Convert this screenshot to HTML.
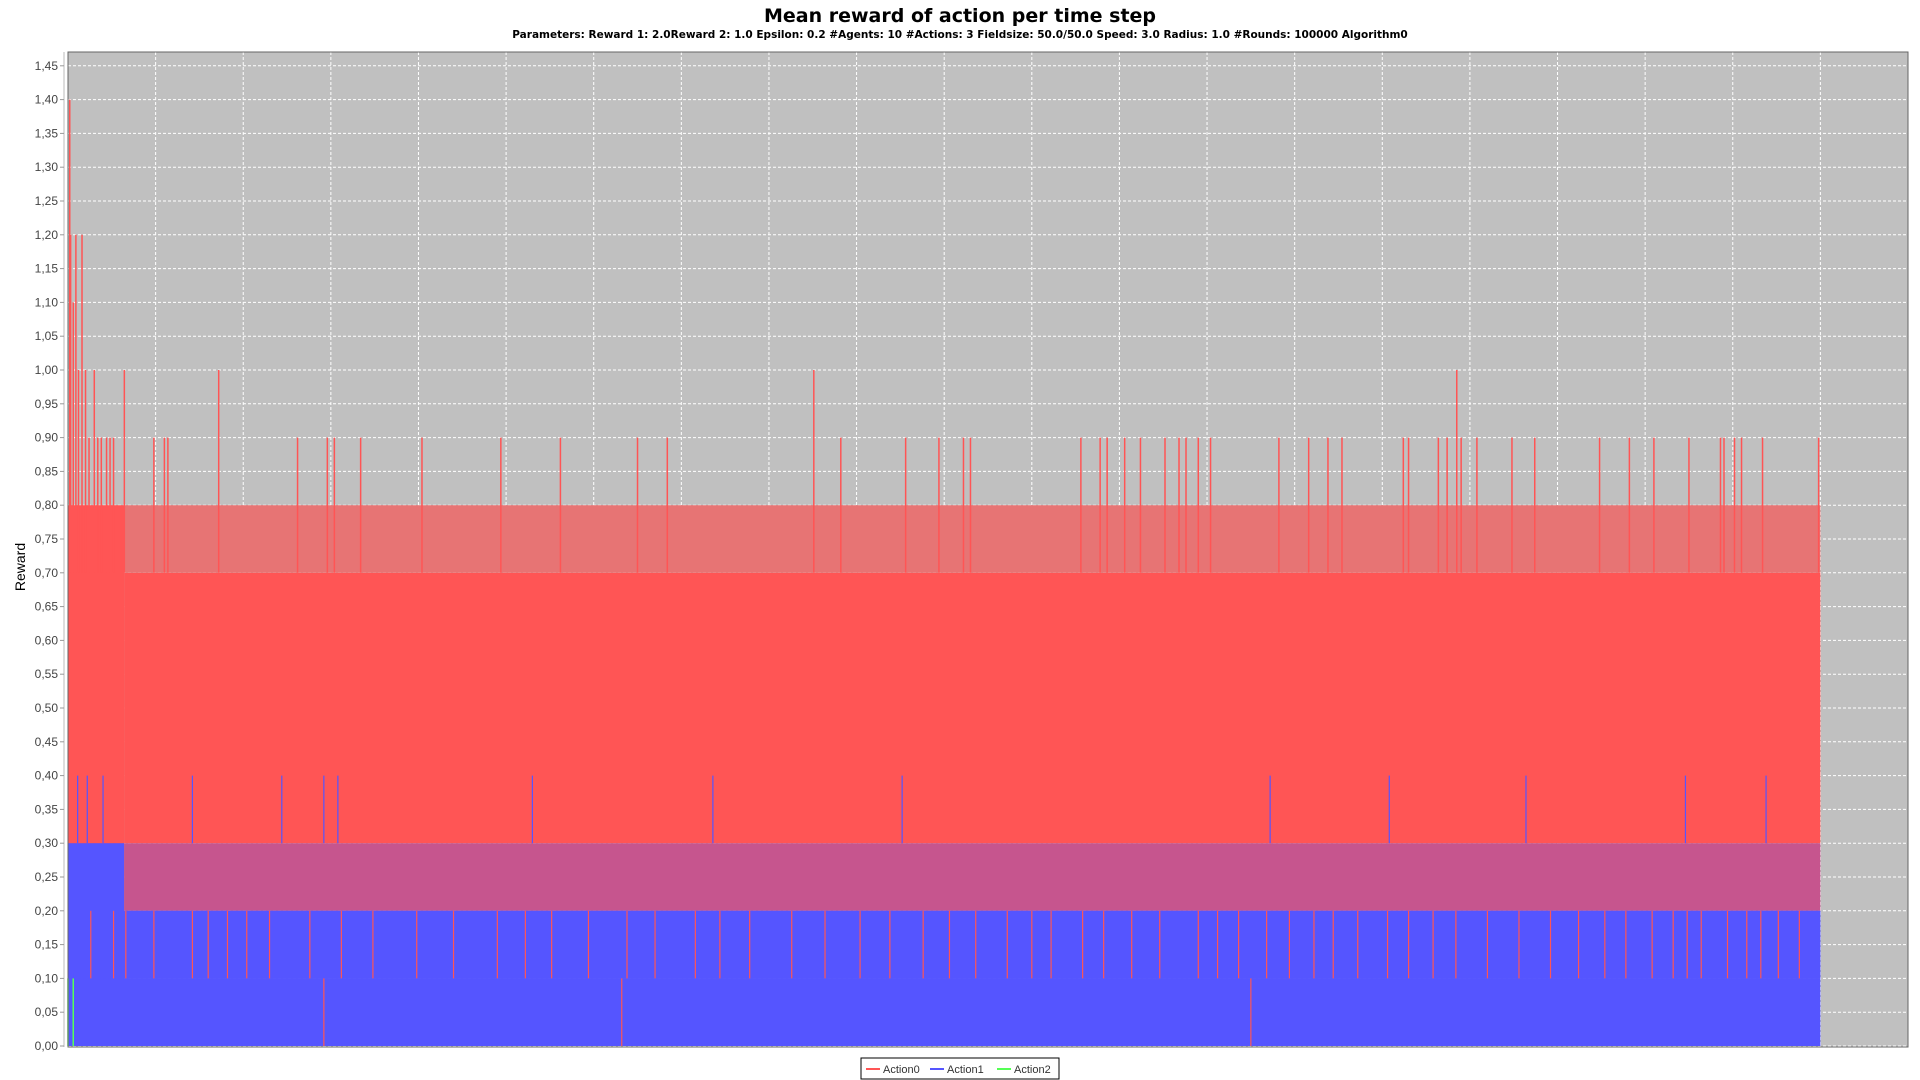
<!DOCTYPE html>
<html><head><meta charset="utf-8"><style>
html,body{margin:0;padding:0;background:#fff;width:1920px;height:1080px;overflow:hidden;font-family:"Liberation Sans",sans-serif}
</style></head><body>
<svg id="chart" width="1920" height="1080" xmlns="http://www.w3.org/2000/svg">
<text x="960" y="22" text-anchor="middle" font-family="DejaVu Sans, sans-serif" font-size="19" font-weight="bold" fill="#000">Mean reward of action per time step</text>
<text x="960" y="38" text-anchor="middle" font-family="DejaVu Sans, sans-serif" font-size="10.5" font-weight="bold" fill="#000">Parameters: Reward 1: 2.0Reward 2: 1.0 Epsilon: 0.2 #Agents: 10 #Actions: 3 Fieldsize: 50.0/50.0 Speed: 3.0 Radius: 1.0 #Rounds: 100000 Algorithm0</text>
<rect x="68" y="52" width="1840" height="995" fill="#c0c0c0"/>
<g id="grid"></g>
<g id="marks"></g>
<rect x="68" y="52" width="1840" height="995" fill="none" stroke="#666" stroke-width="1"/>
<line x1="64" y1="52" x2="64" y2="1047" stroke="#bbb"/>
<g id="yticks"></g>
<text transform="translate(25,567) rotate(-90)" text-anchor="middle" font-size="14" fill="#000">Reward</text>
<g>
<rect x="861" y="1058" width="198" height="21" fill="#fff" stroke="#000" stroke-width="1"/>
<line x1="866" y1="1069" x2="880" y2="1069" stroke="#ff5555" stroke-width="2"/>
<text x="883" y="1073" font-size="11" fill="#333">Action0</text>
<line x1="930" y1="1069" x2="944" y2="1069" stroke="#5555ff" stroke-width="2"/>
<text x="947" y="1073" font-size="11" fill="#333">Action1</text>
<line x1="997" y1="1069" x2="1011" y2="1069" stroke="#55ff55" stroke-width="2"/>
<text x="1014" y="1073" font-size="11" fill="#333">Action2</text>
</g>
</svg>
<script>
const yTicks=[0,0.05,0.1,0.15,0.2,0.25,0.3,0.35,0.4,0.45,0.5,0.55,0.6,0.65,0.7,0.75,0.8,0.85,0.9,0.95,1.0,1.05,1.1,1.15,1.2,1.25,1.3,1.35,1.4,1.45];
const xGrid=[5000,10000,15000,20000,25000,30000,35000,40000,45000,50000,55000,60000,65000,70000,75000,80000,85000,90000,95000,100000,105000];
const roundsEnd=100000;
// bands: [startRound,endRound,low,high,color]
const bandStart=[0,3200,3200,3200,3200,0,0,3200];
const bandEnd=[3200,100000,100000,100000,100000,3200,100000,100000];
const bandLow=[0.2,0.3,0.7,0.2,0.1,0.0,0.0,0.1];
const bandHigh=[0.8,0.7,0.8,0.3,0.2,0.3,0.1,0.2];
const bandColor=['#ff5555','#ff5555','#e77474','#c6558e','#5555ff','#5555ff','#5555ff','#5555ff'];
// action0 spikes
const a0SpikeX=[100,150,300,450,600,800,1000,1200,1500,1700,1900,2200,2400,2600,3215,4900,5500,5700,8600,13100,14800,15200,16700,20200,24700,28100,32500,34200,42560,44100,47800,49700,51100,51500,57800,58900,59300,60300,61200,62600,63400,63800,64500,65200,69100,70800,71900,72700,76200,76500,78200,78700,79250,79500,80400,82400,83700,87400,89100,90500,92500,94300,94500,95100,95500,96700,99900];
const a0SpikeY=[1.4,1.2,1.1,1.2,1.0,1.2,1.0,0.9,1.0,0.9,0.9,0.9,0.9,0.9,1.0,0.9,0.9,0.9,1.0,0.9,0.9,0.9,0.9,0.9,0.9,0.9,0.9,0.9,1.0,0.9,0.9,0.9,0.9,0.9,0.9,0.9,0.9,0.9,0.9,0.9,0.9,0.9,0.9,0.9,0.9,0.9,0.9,0.9,0.9,0.9,0.9,0.9,1.0,0.9,0.9,0.9,0.9,0.9,0.9,0.9,0.9,0.9,0.9,0.9,0.9,0.9,0.9];
const a0DipX=[1300,2600,3300,4900,7100,8000,9100,10200,11500,13800,15600,17400,19900,22000,24500,26100,27600,29700,31900,33500,35800,37200,38900,41300,43200,45200,46900,48800,50300,51800,53600,55000,56100,57900,59100,60700,62300,64500,65600,66800,68400,69700,71100,72200,73600,75300,76500,77900,79200,81000,82800,84600,86200,87700,88900,90400,91600,92400,93200,94700,95800,96600,97600,98800];
const a0DipY=[0.1,0.1,0.1,0.1,0.1,0.1,0.1,0.1,0.1,0.1,0.1,0.1,0.1,0.1,0.1,0.1,0.1,0.1,0.1,0.1,0.1,0.1,0.1,0.1,0.1,0.1,0.1,0.1,0.1,0.1,0.1,0.1,0.1,0.1,0.1,0.1,0.1,0.1,0.1,0.1,0.1,0.1,0.1,0.1,0.1,0.1,0.1,0.1,0.1,0.1,0.1,0.1,0.1,0.1,0.1,0.1,0.1,0.1,0.1,0.1,0.1,0.1,0.1,0.1];
const a0ZeroX=[14600,31600,67500];
// action1 spikes up to 0.4
const a1SpikeX=[550,1100,2000,7100,12200,14600,15400,26500,36800,47600,68600,75400,83200,92300,96900];
const a1SpikeY=[0.4,0.4,0.4,0.4,0.4,0.4,0.4,0.4,0.4,0.4,0.4,0.4,0.4,0.4,0.4];
// action2 early
const a2X=[0,300];
const a2Y=[0.1,0.1];

const X0=68,W=1840,XMAX=105000,Y0=1046,PX=33.8/0.05;
function x(r){return X0+r/XMAX*W;}
function y(v){return Y0-v*PX;}
const NS='http://www.w3.org/2000/svg';
function mk(t,a,p){const e=document.createElementNS(NS,t);for(const k in a)e.setAttribute(k,a[k]);p.appendChild(e);return e;}
const grid=document.getElementById('grid'),marks=document.getElementById('marks'),yt=document.getElementById('yticks');
yTicks.forEach(v=>{
 const l=mk('line',{x1:X0,x2:X0+W,y1:y(v),y2:y(v),stroke:'#fff','stroke-dasharray':'3,2','stroke-width':1},grid);
 
 
 const tk=mk('line',{x1:60,x2:64,y1:y(v),y2:y(v),stroke:'#999'},yt);
 
 
 const t=mk('text',{x:58,y:y(v)+4,'text-anchor':'end','font-size':12,fill:'#444'},yt);
 t.textContent=v.toFixed(2).replace('.',',');
 
 
});
xGrid.forEach(r=>{
 const l=mk('line',{x1:x(r),x2:x(r),y1:52,y2:1047,stroke:'#fff','stroke-dasharray':'3,2','stroke-width':1},grid);
 
 
});
bandStart.forEach((s,i)=>{
 const r=mk('rect',{x:x(s),y:y(bandHigh[i]),width:x(bandEnd[i])-x(s),height:y(bandLow[i])-y(bandHigh[i]),fill:bandColor[i]},marks);
 
 
});
function vl(r,lo,hi,c,w,name){
 const l=mk('line',{x1:x(r),x2:x(r),y1:y(lo),y2:y(hi),stroke:c,'stroke-width':w},marks);
 
 
}
a0SpikeX.forEach((r,i)=>vl(r,0.7,a0SpikeY[i],'#ff5555',1.5,'action0-spike'));
a0DipX.forEach((r,i)=>vl(r,a0DipY[i],0.2,'#ff5555',1.2,'action0-dip'));
a0ZeroX.forEach(r=>vl(r,0,0.1,'#ff5555',1.2,'action0-zero-dip'));
a1SpikeX.forEach((r,i)=>vl(r,0.3,a1SpikeY[i],'#5555ff',1.2,'action1-spike'));
a2X.forEach((r,i)=>vl(r,0,a2Y[i],'#55ff55',1.5,'action2-line'));
</script>
</body></html>
